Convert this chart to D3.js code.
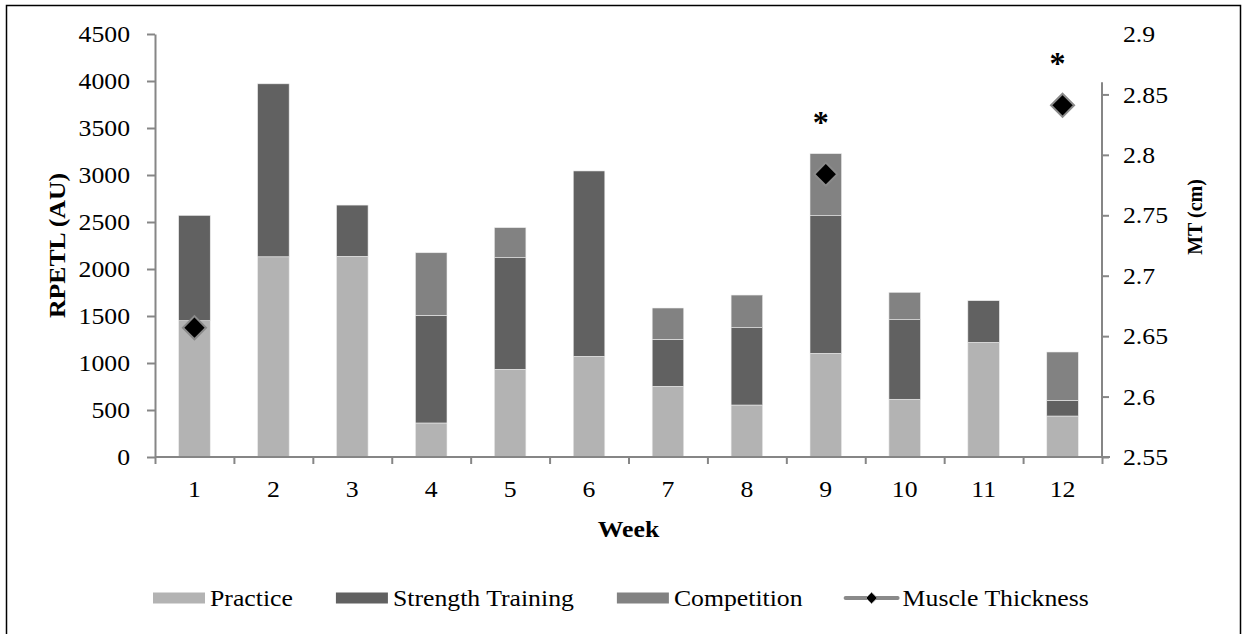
<!DOCTYPE html>
<html>
<head>
<meta charset="utf-8">
<script src="https://cdn.jsdelivr.net/npm/d3@7"></script>
<style>
  html, body { margin: 0; padding: 0; background: #fff; }
  svg { display: block; }
  text { font-family: "Liberation Serif", "Times New Roman", serif; fill: #000; }
</style>
</head>
<body>
<svg id="chart" width="1244" height="634"></svg>
<script>
// ---------- data ----------
const weeks = ["1","2","3","4","5","6","7","8","9","10","11","12"];
const practice    = [1450, 2130, 2135, 362, 933, 1071, 752, 553, 1103, 614, 1220, 436];
const strength    = [1120, 1840, 545, 1145, 1188, 1972, 500, 823, 1464, 847, 443, 167];
const competition = [0, 0, 0, 666, 319, 0, 333, 347, 660, 291, 0, 514];
const mtWeeks  = ["1", "9", "12"];
const mtValues = [2.657, 2.784, 2.841];
const sigWeeks  = ["9", "12"];
const sigLevels = [2.832, 2.881];
const leftTicks  = [0, 500, 1000, 1500, 2000, 2500, 3000, 3500, 4000, 4500];
const rightTicks = [2.55, 2.6, 2.65, 2.7, 2.75, 2.8, 2.85, 2.9];
const seriesNames = ["Practice", "Strength Training", "Competition"];
const seriesColors = ["#b3b3b3", "#616161", "#828282"];

// ---------- layout ----------
const svg = d3.select("#chart");
const X0 = 155, X1 = 1102, Y0 = 457, Y1 = 34;
const FS = 23;             // font size
const SX = 1.12;           // horizontal stretch of text
const axisColor = "#868686";

const x = d3.scaleBand().domain(weeks).range([X0, X1]).paddingInner(0.6).paddingOuter(0.3);
const xLin = d3.scaleLinear().domain([0, weeks.length]).range([X0, X1]);
const yL = d3.scaleLinear().domain([0, 4500]).range([Y0, Y1]);
const yR = d3.scaleLinear().domain([2.55, 2.9]).range([Y0, Y1]);

// border
svg.append("rect").attr("x", 6.5).attr("y", 5.5).attr("width", 1234).attr("height", 660)
  .attr("fill", "none").attr("stroke", "#000").attr("stroke-width", 1.5);

// ---------- stacked bars ----------
const table = weeks.map((w, i) => ({ week: w, Practice: practice[i], "Strength Training": strength[i], Competition: competition[i] }));
const stack = d3.stack().keys(seriesNames)(table);
svg.append("g").selectAll("g").data(stack).join("g")
  .attr("fill", (d, i) => seriesColors[i])
  .selectAll("rect").data(d => d.filter(s => s[1] - s[0] > 0)).join("rect")
  .attr("x", d => x(d.data.week))
  .attr("width", x.bandwidth())
  .attr("y", d => yL(d[1]))
  .attr("height", d => yL(d[0]) - yL(d[1]))
  .attr("stroke", "#ececec").attr("stroke-width", 0.6);

// ---------- axes ----------
function styleAxis(g) {
  g.select(".domain").attr("stroke", axisColor).attr("stroke-width", 2);
  g.selectAll(".tick line").attr("stroke", axisColor).attr("stroke-width", 2);
  g.selectAll("text").attr("font-size", FS).attr("font-family", "Liberation Serif, serif").attr("fill", "#000");
}

// left
const gL = svg.append("g").attr("transform", `translate(${X0},0)`)
  .call(d3.axisLeft(yL).tickValues(leftTicks).tickSize(8).tickSizeOuter(0).tickFormat(d3.format("d")));
styleAxis(gL);
gL.selectAll(".tick text").attr("x", -25 / SX).attr("dy", "0.33em").attr("transform", `scale(${SX},1)`);

// right
const gR = svg.append("g").attr("transform", `translate(${X1},0)`)
  .call(d3.axisRight(yR).tickValues(rightTicks).tickSize(7).tickSizeOuter(0).tickFormat(d => d3.format("")(+d.toFixed(2))));
styleAxis(gR);
gR.select(".domain").attr("d", `M0,${yR(2.86)}V${Y0}`);
gR.selectAll(".tick").filter(d => d === 2.9).select("line").remove();
gR.selectAll(".tick text").attr("x", 21 / SX).attr("dy", "0.33em").attr("transform", `scale(${SX},1)`);

// bottom: boundary ticks
const gB = svg.append("g").attr("transform", `translate(0,${Y0})`)
  .call(d3.axisBottom(xLin).tickValues(d3.range(0, weeks.length + 1)).tickSize(7).tickSizeOuter(0).tickFormat(""));
styleAxis(gB);
gB.select(".domain").attr("d", `M${X0},0H${X1 + 8}`);
// category labels
svg.append("g").selectAll("text").data(weeks).join("text")
  .attr("transform", d => `translate(${x(d) + x.bandwidth() / 2},${Y0 + 40}) scale(${SX},1)`)
  .attr("text-anchor", "middle").attr("font-size", FS).text(d => d);

// axis titles
svg.append("text").attr("transform", `translate(${(X0 + X1) / 2},${Y0 + 80}) scale(${SX},1)`)
  .attr("text-anchor", "middle").attr("font-size", FS).attr("font-weight", "bold").text("Week");
svg.append("text").attr("transform", `translate(65,${(Y0 + Y1) / 2}) rotate(-90) scale(${SX},1)`)
  .attr("text-anchor", "middle").attr("font-size", FS).attr("font-weight", "bold").text("RPETL (AU)");
svg.append("text").attr("transform", `translate(1202,217) rotate(-90)`)
  .attr("text-anchor", "middle").attr("font-size", 20).attr("font-weight", "bold").text("MT (cm)");

// ---------- muscle thickness markers ----------
const diamond = d3.symbol().type(d3.symbolDiamond2).size(340);
svg.append("g").selectAll("path").data(mtWeeks.map((w, i) => ({ w, v: mtValues[i] }))).join("path")
  .attr("d", diamond)
  .attr("transform", d => `translate(${x(d.w) + x.bandwidth() / 2},${yR(d.v)})`)
  .attr("fill", "#000").attr("stroke", "#8a8a8a").attr("stroke-width", 2);

// significance asterisks
svg.append("g").selectAll("text").data(sigWeeks.map((w, i) => ({ w, v: sigLevels[i] }))).join("text")
  .attr("x", d => x(d.w) + x.bandwidth() / 2 - 5)
  .attr("y", d => yR(d.v) + 17)
  .attr("text-anchor", "middle").attr("font-size", 32).attr("font-weight", "bold").text("*");

// ---------- legend ----------
const legend = svg.append("g");
let lx = 153;
const ly = 598;
const legendItems = seriesNames.map((n, i) => ({ name: n, color: seriesColors[i], type: "bar" }))
  .concat([{ name: "Muscle Thickness", type: "line" }]);
legendItems.forEach(item => {
  if (item.type === "bar") {
    legend.append("rect").attr("x", lx).attr("y", ly - 5.5).attr("width", 52).attr("height", 11).attr("fill", item.color);
  } else {
    legend.append("line").attr("x1", lx).attr("x2", lx + 52).attr("y1", ly).attr("y2", ly)
      .attr("stroke", "#8a8a8a").attr("stroke-width", 4).attr("stroke-linecap", "round");
    legend.append("path").attr("d", d3.symbol().type(d3.symbolDiamond2).size(80))
      .attr("transform", `translate(${lx + 26},${ly})`).attr("fill", "#000").attr("stroke", "#8a8a8a").attr("stroke-width", 1);
  }
  const t = legend.append("text").attr("transform", `translate(${lx + 57},${ly + 8}) scale(${SX},1)`)
    .attr("font-size", FS).text(item.name);
  const w = t.node().getComputedTextLength() * SX;
  lx += 57 + w + 43;
});
</script>
</body>
</html>
